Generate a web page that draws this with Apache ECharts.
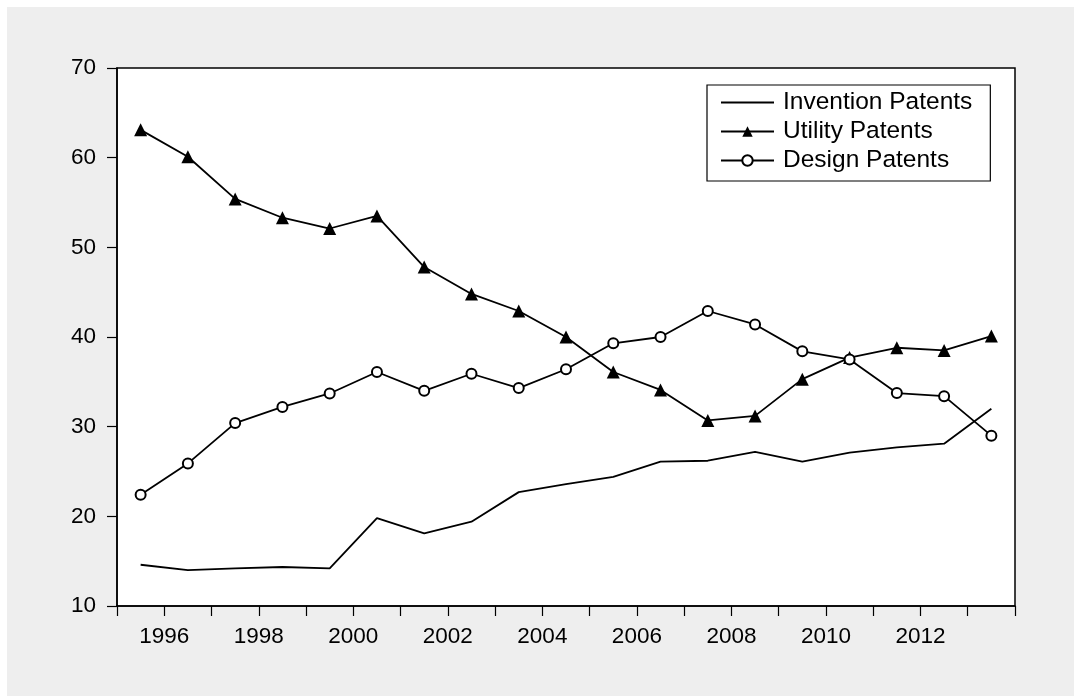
<!DOCTYPE html>
<html>
<head>
<meta charset="utf-8">
<script src="https://cdn.jsdelivr.net/npm/echarts@6/dist/echarts.min.js"></script>
<style>
html,body{margin:0;padding:0;background:#ffffff;}
#c{width:1074px;height:696px;}
</style>
</head>
<body>
<div id="c"></div>
<script>
const years = [1995,1996,1997,1998,1999,2000,2001,2002,2003,2004,2005,2006,2007,2008,2009,2010,2011,2012,2013];
const inventionPatents = [14.6,14.0,14.2,14.35,14.2,19.8,18.1,19.4,22.7,23.6,24.4,26.1,26.2,27.2,26.1,27.1,27.7,28.1,32.0];
const utilityPatents = [63.1,60.1,55.4,53.3,52.1,53.5,47.8,44.8,42.9,40.0,36.1,34.1,30.7,31.2,35.3,37.7,38.8,38.5,40.1];
const designPatents = [22.4,25.9,30.4,32.2,33.7,36.1,34.0,35.9,34.3,36.4,39.3,40.0,42.9,41.4,38.4,37.5,33.75,33.4,29.0];
const seriesNames = ['Invention Patents','Utility Patents','Design Patents'];

const pts = arr => arr.map((v,i)=>[years[i]+0.5, v]);
const FONT = '"Liberation Sans", Arial, sans-serif';

const chart = echarts.init(document.getElementById('c'), null, {renderer:'canvas'});
chart.setOption({
  backgroundColor:'#ffffff',
  animation:false,
  graphic:[{type:'rect', z:-10, silent:true, shape:{x:7,y:7,width:1067,height:689}, style:{fill:'#eeeeee'}}],
  grid:{left:117,right:59,top:68,bottom:90,show:true,backgroundColor:'#ffffff',borderColor:'#000',borderWidth:1.5},
  legend:{
    orient:'vertical', left:707, top:85,
    backgroundColor:'#ffffff', borderColor:'#000', borderWidth:1.2, borderRadius:0,
    padding:[3,18,6,13], itemGap:0, itemWidth:53, itemHeight:13,
    textStyle:{fontFamily:FONT,fontSize:24.5,color:'#000',lineHeight:29,padding:[0,0,0,4]},
    data:[
      {name:seriesNames[0], itemStyle:{opacity:0}},
      {name:seriesNames[1]},
      {name:seriesNames[2]}
    ]
  },
  xAxis:{
    type:'value', min:1995, max:2014, interval:1,
    axisLine:{show:true,lineStyle:{color:'#000',width:1.5}},
    axisTick:{show:true,inside:false,length:10,lineStyle:{color:'#000',width:1.2}},
    axisLabel:{fontFamily:FONT,fontSize:22.5,color:'#000',margin:19,
      formatter:v=> (v%2===0 && v<2014) ? String(v) : ''},
    splitLine:{show:false}
  },
  yAxis:{
    type:'value', min:10, max:70, interval:10,
    axisLine:{show:true,lineStyle:{color:'#000',width:1.5}},
    axisTick:{show:true,length:10,lineStyle:{color:'#000',width:1.2}},
    axisLabel:{fontFamily:FONT,fontSize:22.5,color:'#000',margin:21},
    splitLine:{show:false}
  },
  series:[
    {name:seriesNames[0],type:'line',data:pts(inventionPatents),symbol:'none',
     lineStyle:{color:'#000',width:1.8},itemStyle:{color:'#000'}},
    {name:seriesNames[1],type:'line',data:pts(utilityPatents),symbol:'triangle',symbolSize:13,
     lineStyle:{color:'#000',width:1.8},itemStyle:{color:'#000',borderWidth:0}},
    {name:seriesNames[2],type:'line',data:pts(designPatents),symbol:'circle',symbolSize:10,
     lineStyle:{color:'#000',width:1.8},itemStyle:{color:'#fff',borderColor:'#000',borderWidth:2}}
  ]
});
</script>
</body>
</html>
